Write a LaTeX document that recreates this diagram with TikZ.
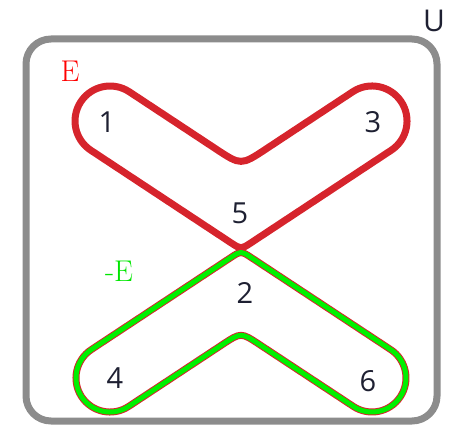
\documentclass[tikz,border=0pt]{standalone}
\usepackage{fontspec}
\newfontfamily\digitfont{Open Sans}
\definecolor{redline}{RGB}{214,36,44}
\definecolor{greenline}{RGB}{0,240,0}
\definecolor{frame}{RGB}{140,140,140}
\definecolor{labred}{RGB}{255,0,0}
\definecolor{labgreen}{RGB}{0,230,0}
\definecolor{digit}{RGB}{30,32,50}
\begin{document}
\begin{tikzpicture}[x=1pt,y=1pt,
  num/.style={text=digit,font=\digitfont\fontsize{29}{29}\selectfont,inner sep=0pt},
  setlab/.style={inner sep=0pt,font=\fontsize{30}{30}\selectfont},
  universe/.style={draw=frame,line width=7pt,rounded corners=25pt},
  redset/.style={draw=redline,line width=7pt,line join=round},
  greenouter/.style={draw=redline,line width=7pt,line join=round},
  greeninner/.style={draw=greenline,line width=5pt,line join=round}]
\useasboundingbox (0,0) rectangle (454,428);
% universe
\draw[universe] (26,7) rectangle (437,389);
% red set E
\draw[redset] (129.3,336.2) -- (215.95,279.03) .. controls (241,262.5) .. (266.05,279.03)
  -- (352.7,336.2) arc[start angle=123.5,end angle=-56.5,radius=35]
  -- (251.02,185.21) .. controls (241,178.6) .. (230.98,185.21)
  -- (90.7,277.8) arc[start angle=236.5,end angle=56.5,radius=35] -- cycle;
% green set -E
\def\greenpath{(91.3,78.4) -- (230.98,170.59) .. controls (241,177.2) .. (251.02,170.59)
  -- (390.7,78.4) arc[start angle=56.6,end angle=-123.4,radius=34]
  -- (259.37,83.58) .. controls (241,95.7) .. (222.63,83.58)
  -- (128.7,21.6) arc[start angle=-56.6,end angle=-236.6,radius=34] -- cycle}
\draw[greenouter] \greenpath;
\draw[greeninner] \greenpath;
% labels
\node[num] (n1) at (107,306) {1};
\node[num] (n3) at (373,306) {3};
\node[num] (n5) at (240,215) {5};
\node[num] (n2) at (245,135) {2};
\node[num] (n4) at (115,50) {4};
\node[num] (n6) at (368,47) {6};
\node[num,font=\digitfont\fontsize{30}{30}\selectfont] (u) at (434,407) {U};
\node[setlab,text=labred] (e) at (70,357) {E};
\node[setlab,text=labgreen] (ne) at (119,157) {-E};
\end{tikzpicture}
\end{document}
